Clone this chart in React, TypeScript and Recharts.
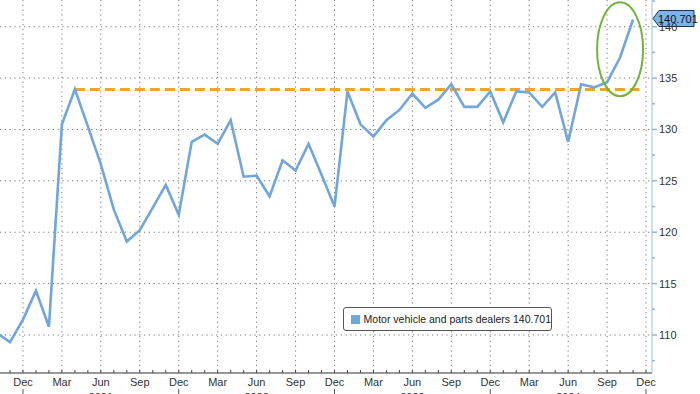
import {
  CartesianGrid,
  Line,
  LineChart,
  ReferenceDot,
  ReferenceLine,
  XAxis,
  YAxis
} from "recharts";

const months = [
  "2020-10", "2020-11", "2020-12",
  "2021-01", "2021-02", "2021-03", "2021-04", "2021-05", "2021-06",
  "2021-07", "2021-08", "2021-09", "2021-10", "2021-11", "2021-12",
  "2022-01", "2022-02", "2022-03", "2022-04", "2022-05", "2022-06",
  "2022-07", "2022-08", "2022-09", "2022-10", "2022-11", "2022-12",
  "2023-01", "2023-02", "2023-03", "2023-04", "2023-05", "2023-06",
  "2023-07", "2023-08", "2023-09", "2023-10", "2023-11", "2023-12",
  "2024-01", "2024-02", "2024-03", "2024-04", "2024-05", "2024-06",
  "2024-07", "2024-08", "2024-09", "2024-10", "2024-11"
];

const dealerSales = [
  110.2, 109.3, 111.5,
  114.3, 110.8, 130.5, 133.9, 130.3, 126.6,
  122.2, 119.1, 120.2, 122.4, 124.6, 121.7,
  128.8, 129.5, 128.6, 130.9, 125.4, 125.5,
  123.5, 127.0, 126.0, 128.6, 125.6, 122.5,
  133.7, 130.5, 129.3, 130.9, 131.9, 133.5,
  132.1, 132.9, 134.4, 132.2, 132.2, 133.7,
  130.7, 133.7, 133.6, 132.2, 133.6, 128.8,
  134.4, 134.1, 134.6, 137.0, 140.701
];

// axis runs one month past the last print
const axisMonths = [...months, "2024-12"];
const monthNames = ["Jan", "Feb", "Mar", "Apr", "May", "Jun", "Jul", "Aug", "Sep", "Oct", "Nov", "Dec"];
const labelledMonths = ["Mar", "Jun", "Sep", "Dec"];
const yMajorTicks = [110, 115, 120, 125, 130, 135, 140];
const yMinorTicks = [107.5, 112.5, 117.5, 122.5, 127.5, 132.5, 137.5, 142.5];

const seriesName = "Motor vehicle and parts dealers";
const lastValue = dealerSales[dealerSales.length - 1];
const peakMonth = "2021-04";
const peakValue = dealerSales[months.indexOf(peakMonth)];
const circledMonth = "2024-10";
const circledLevel = 137.8;

const FONT = "'Liberation Sans', Arial, sans-serif";
const LINE_BLUE = "#70a6db";

const data = months.map((m, i) => ({ idx: i, month: m, value: dealerSales[i] }));
const xTicks = axisMonths.map((_, i) => i).slice(1);
const quarterIdx = xTicks.filter((i) => labelledMonths.includes(monthNames[Number(axisMonths[i].split("-")[1]) - 1]));

function XTick(props: any) {
  const { x, y, payload } = props;
  const [yr, mo] = axisMonths[payload.value].split("-");
  const name = monthNames[Number(mo) - 1];
  const labelled = labelledMonths.includes(name);
  return (
    <g>
      <line x1={x} y1={y} x2={x} y2={y - 3} stroke="#444" strokeWidth={1} />
      {labelled && (
        <text x={x} y={y + 13} textAnchor="middle" fontSize={11} fontFamily={FONT} fill="#333">
          {name}
        </text>
      )}
      {name === "Dec" && <line x1={x} y1={y + 16} x2={x} y2={y + 24} stroke="#555" strokeWidth={1} />}
      {name === "Jun" && (
        <text x={x} y={y + 28} textAnchor="middle" fontSize={11} fontFamily={FONT} fill="#333">
          {yr}
        </text>
      )}
    </g>
  );
}

function YTick(props: any) {
  const { x, y, payload } = props;
  const major = yMajorTicks.includes(payload.value);
  return (
    <g>
      <line x1={x} y1={y} x2={x + (major ? 5 : 3)} y2={y} stroke="#8fb6e0" strokeWidth={1.5} />
      {major && (
        <text x={x + 7} y={y + 4} fontSize={11} fontFamily={FONT} fill="#333">
          {payload.value}
        </text>
      )}
    </g>
  );
}

function LastValueTag(props: any) {
  const { viewBox } = props;
  const x0 = viewBox.x + viewBox.width + 1;
  const y0 = viewBox.y - 1;
  const pts = `${x0},${y0} ${x0 + 6},${y0 - 8} ${x0 + 41},${y0 - 8} ${x0 + 41},${y0 + 8} ${x0 + 6},${y0 + 8}`;
  return (
    <g>
      <polygon points={pts} fill="#7db3e8" stroke="#1f3550" strokeWidth={1} />
      <text x={x0 + 5} y={y0 + 4} fontSize={11} fontFamily={FONT} fill="#111">
        {lastValue.toFixed(3)}
      </text>
    </g>
  );
}

function Ellipse(props: any) {
  const { cx, cy } = props;
  return <ellipse cx={cx} cy={cy} rx={23} ry={47} fill="none" stroke="#72b340" strokeWidth={2} />;
}

export default function App() {
  return (
    <div style={{ position: "absolute", left: 0, top: 0, width: 700, height: 394, background: "#fff" }}>
      <LineChart width={700} height={394} data={data} margin={{ top: 0, right: 0, bottom: 0, left: 0 }}>
        <CartesianGrid
          stroke="#777"
          strokeDasharray="1.2 3.6"
          horizontalValues={yMajorTicks}
          verticalValues={quarterIdx}
        />
        <XAxis
          dataKey="idx"
          type="number"
          domain={[0.23, 50.46]}
          allowDataOverflow
          ticks={xTicks}
          interval={0}
          tick={<XTick />}
          tickSize={0}
          tickMargin={0}
          tickLine={false}
          axisLine={{ stroke: "#333" }}
          height={21}
        />
        <YAxis
          orientation="right"
          domain={[106.3, 142.6]}
          allowDataOverflow
          ticks={[...yMinorTicks, ...yMajorTicks].sort((a, b) => a - b)}
          interval={0}
          tick={<YTick />}
          tickSize={0}
          tickMargin={0}
          tickLine={false}
          axisLine={{ stroke: "#9cc0e6" }}
          width={48}
        />
        <ReferenceLine
          segment={[
            { x: months.indexOf(peakMonth), y: peakValue },
            { x: 49.5, y: peakValue }
          ]}
          stroke="#f3a32c"
          strokeWidth={3}
          strokeDasharray="10 5"
        />
        <Line
          type="linear"
          dataKey="value"
          stroke={LINE_BLUE}
          strokeWidth={2.6}
          dot={false}
          isAnimationActive={false}
        />
        <ReferenceDot
          x={months.indexOf(circledMonth)}
          y={circledLevel}
          r={1}
          shape={<Ellipse />}
        />
        <ReferenceLine y={lastValue} stroke="none" label={<LastValueTag />} />
      </LineChart>
      <div
        style={{
          position: "absolute",
          left: 343,
          top: 307,
          width: 207,
          height: 22,
          border: "1px solid #555",
          borderRadius: 3,
          background: "#fff",
          display: "flex",
          alignItems: "center",
          fontFamily: FONT,
          fontSize: 10.5,
          color: "#222",
          whiteSpace: "nowrap"
        }}
      >
        <span style={{ display: "inline-block", width: 9, height: 9, background: "#6fa8dc", marginLeft: 7, marginRight: 4 }} />
        {seriesName} {lastValue.toFixed(3)}
      </div>
    </div>
  );
}
